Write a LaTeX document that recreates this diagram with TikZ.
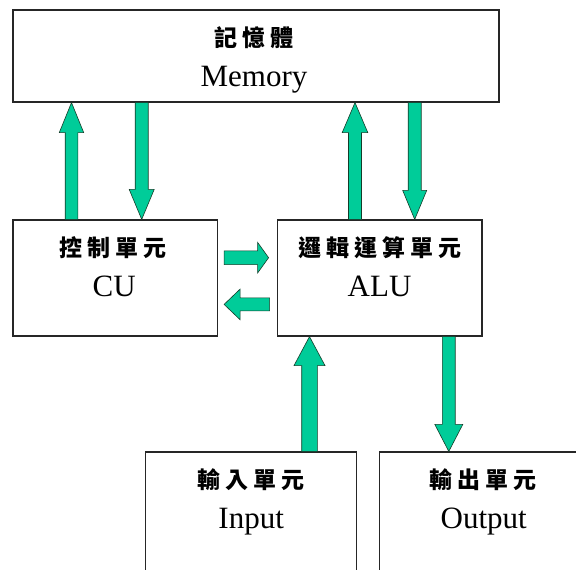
\documentclass[tikz,border=0pt]{standalone}
\usepackage{fontspec}
\setmainfont{Liberation Serif}
\newfontfamily\cjk{Noto Sans CJK TC}
\usetikzlibrary{calc}
\definecolor{arrgreen}{RGB}{0,204,153}
\definecolor{arredge}{RGB}{20,60,40}
\newcommand\cjkgap{\kern5pt}
% #1 start, #2 tip, #3 stem half width, #4 head half width, #5 head length
\newcommand\fatarr[5]{%
  \coordinate (fa-h) at ($(#2)!#5!(#1)$);
  \filldraw[arr] ($(#1)!#3!90:(#2)$) -- ($(fa-h)!#3!90:(#2)$) -- ($(fa-h)!#4!90:(#2)$)
    -- (#2) -- ($(fa-h)!#4!-90:(#2)$) -- ($(fa-h)!#3!-90:(#2)$) -- ($(#1)!#3!-90:(#2)$) -- cycle;}
\begin{document}
\begin{tikzpicture}[x=1pt,y=-1pt,
  box/.style={draw=black!85, line width=1.2pt, rectangle, inner sep=0pt, fill=white},
  zh/.style={font=\cjk\bfseries\fontsize{23}{23}\selectfont, anchor=base, inner sep=0pt},
  en/.style={font=\fontsize{31}{31}\selectfont, anchor=base, inner sep=0pt},
  arr/.style={fill=arrgreen, draw=arredge, line width=0.6pt, line join=miter}]
\useasboundingbox (0,0) rectangle (576,570);
\begin{scope}
\clip (0,0) rectangle (576,570);
\fill[white] (0,0) rectangle (576,570);
% boxes
\node[box, minimum width=486.1pt, minimum height=92pt] (mem) at (255.95,56) {};
\node[box, minimum width=204.6pt, minimum height=116pt] (cu) at (115.2,278) {};
\node[box, minimum width=204.8pt, minimum height=116pt] (alu) at (379.6,278) {};
\node[box, minimum width=210.7pt, minimum height=148pt] (inp) at (251.15,526) {};
\node[box, minimum width=206.5pt, minimum height=148pt] (out) at (482.75,526) {};
% texts
\node[zh] (memzh) at ([xshift=-2pt,yshift=-37pt]mem.north) {記\cjkgap 憶\cjkgap 體};
\node[en] (memen) at ([xshift=-2pt,yshift=-77pt]mem.north) {Memory};
\node[zh] (cuzh) at ([xshift=-2pt,yshift=-37pt]cu.north) {控\cjkgap 制\cjkgap 單\cjkgap 元};
\node[en] (cuen) at ([xshift=-1pt,yshift=-77pt]cu.north) {CU};
\node[zh] (aluzh) at ([yshift=-37pt]alu.north) {邏\cjkgap 輯\cjkgap 運\cjkgap 算\cjkgap 單\cjkgap 元};
\node[en] (aluen) at ([yshift=-77pt]alu.north) {ALU};
\node[zh] (inpzh) at ([yshift=-37pt]inp.north) {輸\cjkgap 入\cjkgap 單\cjkgap 元};
\node[en] (inpen) at ([yshift=-77pt]inp.north) {Input};
\node[zh] (outzh) at ([yshift=-37pt]out.north) {輸\cjkgap 出\cjkgap 單\cjkgap 元};
\node[en] (outen) at ([xshift=1pt,yshift=-77pt]out.north) {Output};
% CU <-> Memory
\coordinate (a1s) at ([xshift=-43.7pt]cu.north);
\coordinate (a1e) at (a1s |- mem.south);
\fatarr{a1s}{a1e}{6.3pt}{12.2pt}{30pt}
\coordinate (a2e) at ([xshift=26.5pt]cu.north);
\coordinate (a2s) at (a2e |- mem.south);
\fatarr{a2s}{a2e}{6.5pt}{12.5pt}{30pt}
% ALU <-> Memory
\coordinate (a3s) at ([xshift=-24.6pt]alu.north);
\coordinate (a3e) at (a3s |- mem.south);
\fatarr{a3s}{a3e}{6.5pt}{12.8pt}{30pt}
\coordinate (a4e) at ([xshift=35.1pt]alu.north);
\coordinate (a4s) at (a4e |- mem.south);
\fatarr{a4s}{a4e}{6.5pt}{12pt}{29pt}
% CU <-> ALU
\coordinate (a5s) at ([xshift=6pt,yshift=-38.3pt]cu.north east);
\coordinate (a5x) at (a5s -| alu.west);
\coordinate (a5e) at ([xshift=-8pt]a5x);
\fatarr{a5s}{a5e}{6.9pt}{15.3pt}{11pt}
\coordinate (a6e) at ([xshift=6pt,yshift=-85pt]cu.north east);
\coordinate (a6x) at (a6e -| alu.west);
\coordinate (a6s) at ([xshift=-7pt]a6x);
\fatarr{a6s}{a6e}{6.5pt}{15.3pt}{16pt}
% Input -> ALU, ALU -> Output
\coordinate (a7s) at ([xshift=58.35pt]inp.north);
\coordinate (a7e) at (a7s |- alu.south);
\fatarr{a7s}{a7e}{7.8pt}{15.5pt}{29pt}
\coordinate (a8s) at ([xshift=69.2pt]alu.south);
\coordinate (a8e) at (a8s |- out.north);
\fatarr{a8s}{a8e}{6.4pt}{14pt}{27pt}
\end{scope}
\end{tikzpicture}
\end{document}
